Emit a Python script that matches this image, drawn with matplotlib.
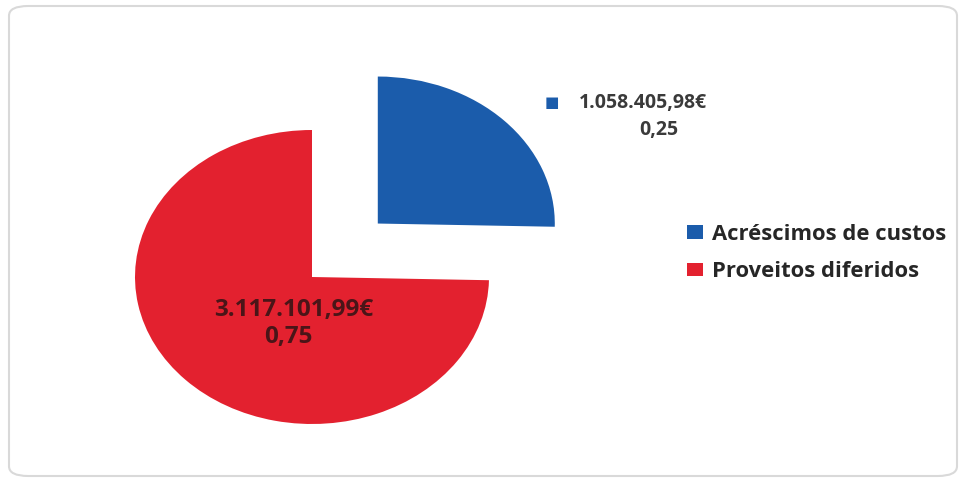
import matplotlib.pyplot as plt
from matplotlib.patches import FancyBboxPatch

# Données
categories = ["Acréscimos de custos", "Proveitos diferidos"]
valeurs = [1058405.98, 3117101.99]
etiquettes_valeur = ["1.058.405,98€", "3.117.101,99€"]
etiquettes_part = ["0,25", "0,75"]
couleurs = ["#1b5cab", "#e3212f"]

plt.rcParams['font.family'] = ['Open Sans', 'DejaVu Sans']

fig = plt.figure(figsize=(9.64, 4.88), dpi=100)
W, H = 964, 488

# Cadre arrondi (derrière le camembert)
cadre = FancyBboxPatch((9 / W, 12 / H), 948 / W, 470 / H,
                       boxstyle="round,pad=0,rounding_size=0.02",
                       transform=fig.transFigure, facecolor="white",
                       edgecolor="#d9d9d9", lw=1.5, zorder=-5)
fig.patches.append(cadre)

# Axe du camembert : centre (312, 277) px, rayons 177 x 147 px
cx, cy, rx, ry = 312, H - 277, 177, 147
xl, xr, yb, yt = 1.2, 1.5, 1.2, 1.6
ax = fig.add_axes([(cx - xl * rx) / W, (cy - yb * ry) / H,
                   (xl + xr) * rx / W, (yb + yt) * ry / H])
ax.set_zorder(1)
wedges, _ = ax.pie(valeurs, colors=couleurs, startangle=90, counterclock=False,
                   explode=[0.52, 0], wedgeprops=dict(linewidth=0))
ax.set_aspect('auto')
ax.set_xlim(-xl, xr)
ax.set_ylim(-yb, yt)
ax.axis('off')

# Étiquettes de données
fig.text(552 / W, 1 - 102 / H, "■", color=couleurs[0], fontsize=11,
         ha="center", va="center", family="DejaVu Sans", zorder=3)
fig.text(643 / W, 1 - 103 / H, etiquettes_valeur[0], fontsize=14, fontweight="bold",
         color="#3a3a3a", ha="center", va="center", zorder=3)
fig.text(659 / W, 1 - 130 / H, etiquettes_part[0], fontsize=14, fontweight="bold",
         color="#3a3a3a", ha="center", va="center", zorder=3)
fig.text(294 / W, 1 - 310 / H, etiquettes_valeur[1], fontsize=17.5, fontweight="bold",
         color="#4a1518", ha="center", va="center", zorder=3)
fig.text(288 / W, 1 - 337 / H, etiquettes_part[1], fontsize=17.5, fontweight="bold",
         color="#4a1518", ha="center", va="center", zorder=3)

# Légende
leg = fig.legend(wedges, categories, loc="center left",
                 bbox_to_anchor=(667 / W, 1 - 253 / H), frameon=False,
                 handlelength=0.75, handleheight=0.6,
                 handletextpad=0.4, labelspacing=0.75,
                 prop=dict(weight="bold", size=15.8))
for t in leg.get_texts():
    t.set_color("#262626")

fig.savefig("out.png", dpi=100)
